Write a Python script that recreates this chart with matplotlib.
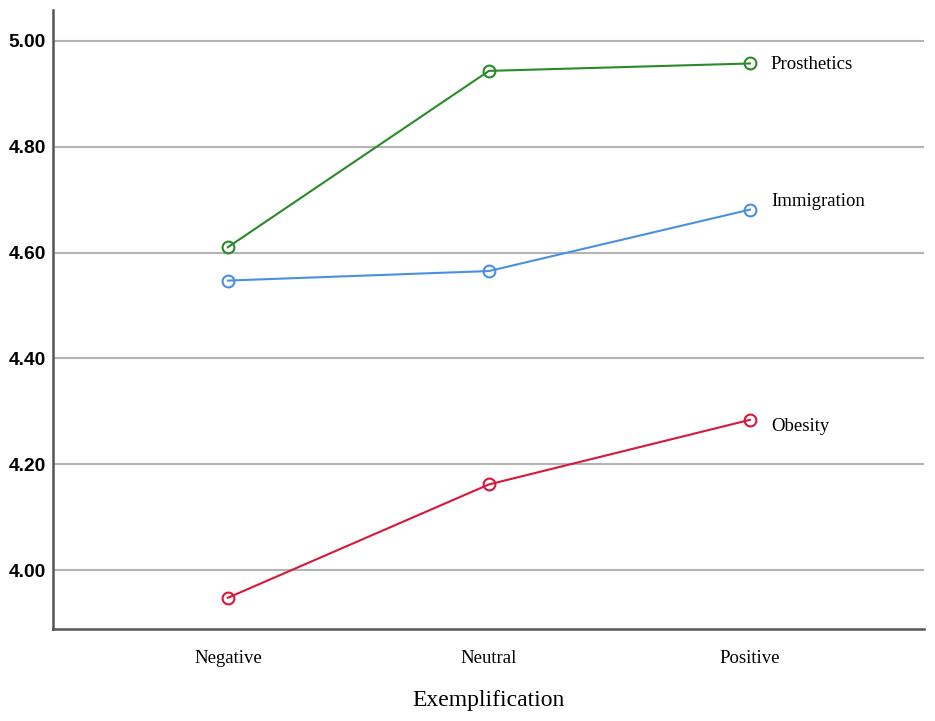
import matplotlib.pyplot as plt
import numpy as np

# data
categories = ['Negative', 'Neutral', 'Positive']
prosthetics = [4.610, 4.943, 4.957]
immigration = [4.547, 4.565, 4.681]
obesity = [3.948, 4.162, 4.284]
series_names = ['Prosthetics', 'Immigration', 'Obesity']
y_ticks = [4.00, 4.20, 4.40, 4.60, 4.80, 5.00]

colors = ['#2a8a2a', '#4a90e2', '#d8173c']
label_offsets = [(0, -1), (0, 8), (0, -7)]  # pixels, relative to last point

fig = plt.figure(figsize=(9.35, 7.21), dpi=100)
ax = fig.add_axes([53 / 935, 1 - 629 / 721, 871 / 935, 619 / 721])

x = np.arange(len(categories))
for vals, name, col, off in zip([prosthetics, immigration, obesity], series_names, colors, label_offsets):
    ax.plot(x, vals, color=col, lw=1.5, marker='o', ms=8.5, mfc='none', mec=col, mew=1.5, zorder=3)
    ax.annotate(name, xy=(x[-1], vals[-1]), xytext=(21 + off[0], off[1]),
                textcoords='offset pixels', ha='left', va='center',
                family='Liberation Serif', fontsize=13.5, color='black')

ax.set_xlim(-0.67, 2.667)
ax.set_ylim(3.889, 5.058)
ax.set_yticks(y_ticks)
ax.set_yticklabels([f'{v:.2f}' for v in y_ticks], family='Liberation Sans', fontweight='bold', fontsize=13.8)
ax.set_xticks(x)
ax.set_xticklabels(categories, family='Liberation Serif', fontsize=13.5)
ax.tick_params(axis='both', length=0)
ax.tick_params(axis='y', pad=5)
ax.tick_params(axis='x', pad=15)
ax.set_xlabel('Exemplification', family='Liberation Serif', fontsize=17, labelpad=17)

ax.grid(axis='y', color='#b4b4b4', lw=1.5)
ax.set_axisbelow(True)
for s in ['top', 'right']:
    ax.spines[s].set_visible(False)
for s in ['left', 'bottom']:
    ax.spines[s].set_color('#555555')
    ax.spines[s].set_linewidth(1.8)

plt.savefig('out.png', dpi=100)
